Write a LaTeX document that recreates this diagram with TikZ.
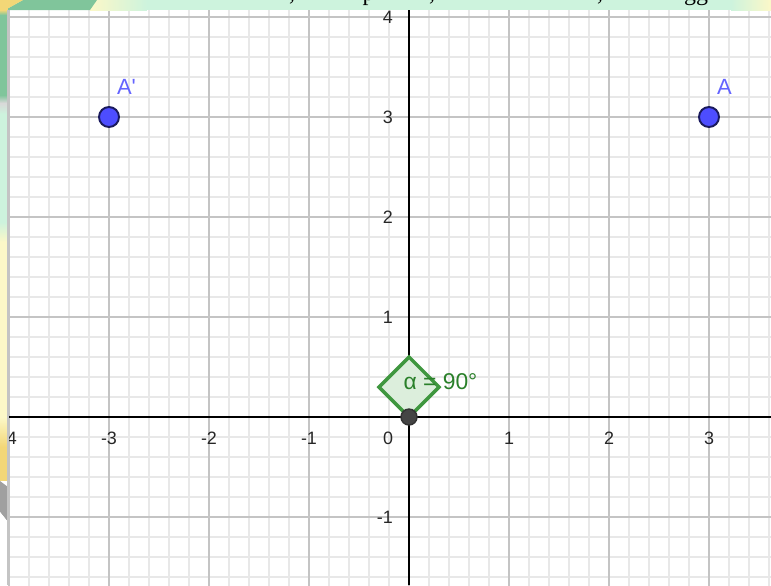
\documentclass[tikz,border=0pt]{standalone}
\usepackage{fontspec}
\setmainfont{Liberation Sans}
\newfontfamily\pageserif{Liberation Serif}
\definecolor{minorc}{HTML}{E8E8E8}
\definecolor{majorc}{HTML}{C4C4C4}
\definecolor{ptfill}{HTML}{4D4DFF}
\definecolor{ptdraw}{HTML}{1A1A5E}
\definecolor{ptlab}{HTML}{6464FF}
\definecolor{angdraw}{HTML}{3F973F}
\definecolor{angfill}{HTML}{DCEEDC}
\definecolor{angtext}{HTML}{2A802A}
\definecolor{origfill}{HTML}{454545}
\definecolor{decgreen}{HTML}{80C59B}
\definecolor{decmint}{HTML}{CDF3DD}
\definecolor{decyellow}{HTML}{F3D777}
\definecolor{decpale}{HTML}{FCF8C8}
\definecolor{decgray}{HTML}{A0A0A0}
\begin{document}
\begin{tikzpicture}[x=1cm,y=1cm,
  minorgrid/.style={draw=minorc, line width=0.3pt},
  majorgrid/.style={draw=majorc, line width=0.45pt},
  axisline/.style={draw=black, line width=0.6pt},
  axlabel/.style={font=\fontsize{5.1}{6}\selectfont, text=black!85, inner sep=0pt},
  ptlabel/.style={font=\fontsize{6.26}{7}\selectfont, text=ptlab, inner sep=0pt},
  ptdot/.style={circle, fill=ptfill, draw=ptdraw, line width=0.55pt, minimum size=0.2cm, inner sep=0pt},
  origdot/.style={circle, fill=origfill, draw=black!80, line width=0.4pt, minimum size=0.16cm, inner sep=0pt},
  anglemark/.style={draw=angdraw, fill=angfill, line width=1pt, line join=miter},
  angtextst/.style={font=\fontsize{6.5}{7}\selectfont, text=angtext, inner sep=0pt},
  pagetext/.style={font=\pageserif\fontsize{6.8}{8}\selectfont, text=black, inner sep=0pt, anchor=base}]
\useasboundingbox (-4.09,-1.68) rectangle (3.62,4.17);
\fill[white] (-4.09,-1.68) rectangle (3.62,4.17);
% grid
\begin{scope}
  \clip (-4.01,-1.68) rectangle (3.62,4.07);
  \draw[minorgrid, step=0.2] (-4.2,-1.8) grid (3.8,4.2);
  \draw[majorgrid, step=1] (-5,-2) grid (4,5);
\end{scope}
% axes
\coordinate (xl) at (-4.01,0);
\coordinate (xr) at (3.62,0);
\coordinate (yb) at (0,-1.68);
\coordinate (yt) at (0,4.07);
\draw[axisline] (xl) -- (xr);
\draw[axisline] (yb) -- (yt);
% axis labels
\foreach \v/\nm in {-4/xm4,-3/xm3,-2/xm2,-1/xm1,1/xp1,2/xp2,3/xp3}
  \node[axlabel] (\nm) at (\v,-0.21) {\v};
\node[axlabel] (x0) at (-0.21,-0.21) {0};
\foreach \v/\nm in {4/yp4,3/yp3,2/yp2,1/yp1,-1/ym1}
  \node[axlabel, anchor=east] (\nm) at (-0.155,\v) {\v};
% angle marker
\filldraw[anglemark] (0,0) -- (0.3,0.3) -- (0,0.6) -- (-0.3,0.3) -- cycle;
\node[angtextst] (alpha) at (0.315,0.35) {α = 90°};
% points
\node[origdot] (O) at (0,0) {};
\node[ptdot] (Ap) at (-3,3) {};
\node[ptdot] (A) at (3,3) {};
\node[ptlabel] (Aplab) at (-2.825,3.30) {A\textquotesingle};
\node[ptlabel] (Alab) at (3.155,3.30) {A};
% decorative top strip
\fill[decmint] (-4.09,4.07) rectangle (3.62,4.17);
\shade[left color=decpale, right color=decmint] (-3.19,4.07) rectangle (-2.62,4.17);
\shade[left color=decmint, right color=decpale] (3.22,4.07) rectangle (3.62,4.17);
\fill[decgreen] (-4.04,4.07) -- (-3.86,4.17) -- (-3.12,4.17) -- (-3.19,4.07) -- cycle;
\fill[decyellow] (-4.09,4.07) -- (-4.09,4.17) -- (-3.86,4.17) -- (-4.04,4.07) -- cycle;
\begin{scope}
  \clip (-4.09,4.07) rectangle (3.62,4.17);
  \node[pagetext] (c1) at (-1.17,4.17) {,};
  \node[pagetext, anchor=base west] (p1) at (-0.47,4.17) {p};
  \node[pagetext] (c2) at (0.23,4.17) {,};
  \node[pagetext] (c3) at (1.91,4.17) {,};
  \node[pagetext] (g1) at (2.87,4.17) {gg};
\end{scope}
% decorative left strip
\fill[decyellow] (-4.09,4.07) rectangle (-4.01,4.17);
\shade[top color=decyellow, bottom color=decgreen] (-4.09,4.02) rectangle (-4.01,4.07);
\fill[decgreen] (-4.09,3.22) rectangle (-4.01,4.02);
\shade[top color=decgreen, bottom color=black!15] (-4.09,3.14) rectangle (-4.01,3.22);
\shade[top color=black!15, bottom color=decmint] (-4.09,3.03) rectangle (-4.01,3.14);
\fill[decmint] (-4.09,1.95) rectangle (-4.01,3.03);
\shade[top color=decmint, bottom color=decpale] (-4.09,1.75) rectangle (-4.01,1.95);
\fill[decpale] (-4.09,0.0) rectangle (-4.01,1.75);
\shade[top color=decpale, bottom color=decyellow] (-4.09,-0.30) rectangle (-4.01,0.0);
\fill[decyellow] (-4.09,-0.64) rectangle (-4.01,-0.30);
\fill[decgray] (-4.09,-0.64) -- (-4.01,-0.70) -- (-4.01,-1.05) -- (-4.09,-0.95) -- cycle;
\fill[white] (-4.09,-1.68) -- (-4.09,-0.95) -- (-4.01,-1.05) -- (-4.01,-1.68) -- cycle;
\draw[majorc, line width=0.3pt] (-4.01,-1.68) -- (-4.01,4.07);
\end{tikzpicture}
\end{document}
